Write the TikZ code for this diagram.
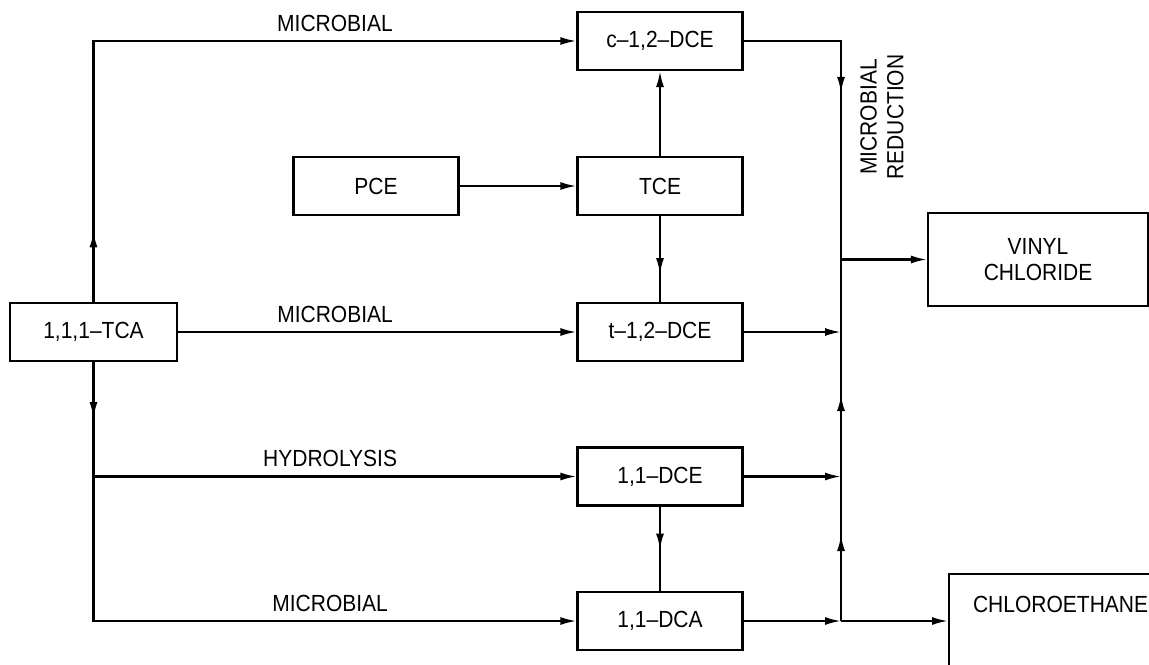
\documentclass[tikz,border=0pt]{standalone}
\usepackage{fontspec}
\setmainfont{Liberation Sans}[FakeStretch=0.9]
\usetikzlibrary{arrows.meta,decorations.markings,positioning}

\tikzset{
  box/.style={draw, line width=1.6pt, minimum width=123.75pt, minimum height=43.5pt, inner sep=0pt, font=\fontsize{17.5}{20}\selectfont},
  lbl/.style={font=\fontsize{17.5}{20}\selectfont, inner sep=0pt},
  wlbl/.style={font=\fontsize{17.5}{20}\selectfont, anchor=south, inner sep=6.5pt},
  line/.style={line width=1.6pt},
  flow/.style={line width=1.6pt, -{Latex[length=12pt,width=6pt]}},
  arrat/.style={postaction={decorate, decoration={markings, mark=at position #1 with {\arrow{Latex[length=12pt,width=6pt]}}}}}
}

\begin{document}
\begin{tikzpicture}[x=0.75pt,y=0.75pt,yscale=-1,xscale=1]
\useasboundingbox (0,0) rectangle (1149,664);

% compounds
\node[box] (cdce) at (660,41) {c--1,2--DCE};
\node[box] (pce) at (376,186) {PCE};
\node[box] (tce) at (660,186) {TCE};
\node[box, minimum width=125.25pt] (tca) at (93.5,332) {1,1,1--TCA};
\node[box] (tdce) at (660,332) {t--1,2--DCE};
\node[box] (dce) at (660,476.5) {1,1--DCE};
\node[box] (dca) at (660,621) {1,1--DCA};
\node[box, minimum width=165pt, minimum height=69.75pt, align=center] (vc) at (1038,259.5) {VINYL\\CHLORIDE};
\node[box, anchor=north west, inner xsep=18pt, inner ysep=16.5pt, text height=12.5pt, text depth=80pt] (ceth) at (948,573) {CHLOROETHANE};

% collector line
\coordinate (bus) at (841,0);

% from 1,1,1-TCA
\draw[flow, arrat=53pt] (tca.north) -- (tca.north |- cdce.west) -- node[wlbl] {MICROBIAL} (cdce.west);
\draw[flow] (tca.east) -- node[wlbl, pos=0.394] {MICROBIAL} (tdce.west);
\draw[flow, arrat=42pt] (tca.south) -- (tca.south |- dca.west) -- node[wlbl, pos=0.49] {MICROBIAL} (dca.west);
\draw[flow] (tca.south |- dce.west) -- node[wlbl, pos=0.49] {HYDROLYSIS} (dce.west);

% PCE and TCE
\draw[flow] (pce) -- (tce);
\draw[flow] (tce) -- (cdce);
\draw[line, arrat=43.5pt] (tce) -- (tdce);
\draw[line, arrat=32.25pt] (dce) -- (dca);

% reduction
\draw[flow, arrat=112pt] (cdce.east) -- (cdce.east -| bus) -- (vc.west -| bus) -- (vc.west);
\draw[line, arrat=64.5pt, arrat=169.5pt] (dca.east -| bus) -- (vc.west -| bus);
\draw[flow] (tdce.east) -- (tdce.east -| bus);
\draw[flow] (dce.east) -- (dce.east -| bus);
\draw[flow] (dca.east) -- (dca.east -| bus);
\draw[flow] (dca.east -| bus) -- (ceth.north west |- dca.east);
\node[lbl, rotate=90, align=center] (redn) at (882,117) {MICROBIAL\\REDUCTION};

\end{tikzpicture}
\end{document}
